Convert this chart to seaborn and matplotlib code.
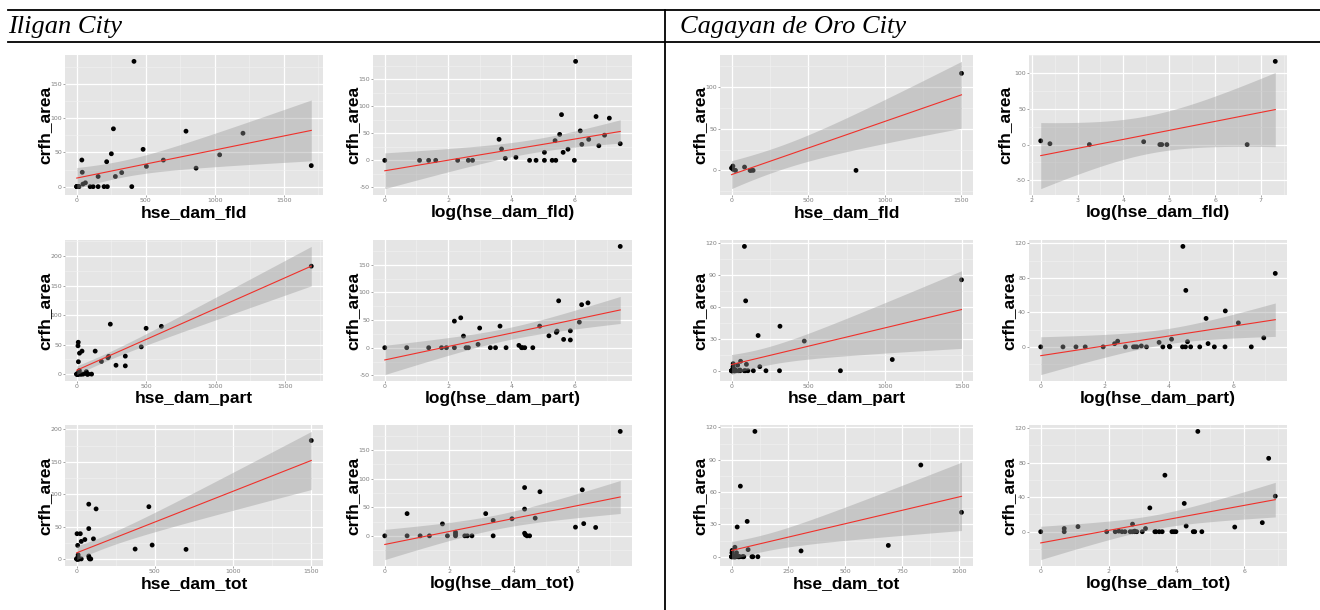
import numpy as np
import pandas as pd
import matplotlib
matplotlib.use("Agg")
import matplotlib.pyplot as plt
from matplotlib.lines import Line2D
import seaborn as sns

# ---------------- Iligan City ----------------
# houses damaged by flood vs. crfh_area
ili_fld = [0, 0, 1, 3, 4, 5, 10, 14, 16, 37, 40, 45, 63, 97, 119,
           155, 155, 198, 217, 222, 251, 266, 280, 326, 399, 415, 481, 505, 628,
           792, 865, 1036, 1205, 1700]
ili_fld_area = [0, 0, 0, 0, 0, 0, 0, 0, 0, 38.9, 21, 3.7, 5.6, 0, 0,
                0, 14.8, 0, 36.4, 0, 48, 84.5, 14.8, 20.5, 0, 183, 54.5, 29.6, 38.8,
                81, 27, 46.5, 78, 30.7]

# partially damaged houses vs. crfh_area
ili_part = [0, 0, 1, 2, 4, 6, 7, 9, 9, 11, 12, 13, 14, 19, 20, 28, 33, 38, 46, 69,
            75, 77, 83, 107, 133, 178, 225, 230, 242, 283, 350, 350, 465, 500, 610,
            1690]
ili_part_area = [0, 0, 0, 0, 0, 0, 0, 48, 0, 54, 21, 0, 0, 6, 35.5, 0, 0, 39, 0, 4.2,
                 0, 0, 0, 0, 39, 21.5, 27.7, 30, 84.7, 15, 30.5, 14, 46.2, 77.7, 81,
                 183]

# totally damaged houses vs. crfh_area
ili_tot = [0, 0, 1, 2, 2, 3, 4, 6, 7, 9, 9, 9, 12, 13, 15, 23, 29, 29, 52, 77, 77,
           77, 79, 83, 90, 107, 124, 374, 462, 483, 700, 1502]
ili_tot_area = [0, 0, 0, 38.9, 0, 0, 0, 20.9, 0, 6.2, 3, 0, 0, 0, 0, 38.9, 27, 0,
                29.9, 84.5, 46.8, 4.5, 1.7, 0, 0, 31, 77.2, 15.2, 80.6, 21.4, 14.7,
                182.8]

# ---------------- Cagayan de Oro City ----------------
cdo_fld = [0, 9, 11, 26, 85, 121, 126, 141, 812, 1500]
cdo_fld_area = [2.8, 5.2, 1.2, 0, 4, 0, 0, 0, 0, 116.4]

cdo_part = [0, 0, 1, 2, 3, 4, 7, 10, 11, 14, 18, 19, 20, 23, 27, 40, 45, 55, 56, 59,
            84, 83, 92, 91, 97, 107, 142, 173, 184, 224, 315, 312, 473, 708, 1045,
            1495]
cdo_part_area = [0, 0, 0, 0, 0, 0, 0, 3.7, 6.6, 0, 0, 0, 0, 1.1, 0, 5.2, 0, 0.7, 0,
                 8.9, 116.5, 0, 65.5, 0, 6, 0, 0, 33, 3.8, 0, 41.7, 0, 27.8, 0, 10.5,
                 85.2]

cdo_tot = [0, 0, 1, 2, 2, 3, 7, 9, 10, 11, 12, 14, 15, 16, 15, 16, 17, 20, 22, 25,
           29, 30, 33, 36, 39, 48, 51, 54, 69, 73, 90, 94, 103, 116, 306, 690, 833,
           1012]
cdo_tot_area = [0, 0, 0, 3.7, 0, 5.9, 0, 0, 0.7, 0, 0, 0, 0, 0, 8.8, 0.7, 0, 0, 3.7,
                27.6, 0, 0, 0, 0, 65.5, 0, 0, 0, 32.8, 6.6, 0, 0, 116.3, 0, 5.4,
                10.5, 85.1, 41.2]

city_titles = ["Iligan City", "Cagayan de Oro City"]
y_label = "crfh_area"

# (row, col, x, y, x variable name, log-transform?, x breaks, y breaks)
panels = [
    (0, 0, ili_fld, ili_fld_area, "hse_dam_fld", False, [0, 500, 1000, 1500], [0, 50, 100, 150]),
    (0, 1, ili_fld, ili_fld_area, "hse_dam_fld", True, [0, 2, 4, 6], [-50, 0, 50, 100, 150]),
    (0, 2, cdo_fld, cdo_fld_area, "hse_dam_fld", False, [0, 500, 1000, 1500], [0, 50, 100]),
    (0, 3, cdo_fld, cdo_fld_area, "hse_dam_fld", True, [2, 3, 4, 5, 6, 7], [-50, 0, 50, 100]),
    (1, 0, ili_part, ili_part_area, "hse_dam_part", False, [0, 500, 1000, 1500], [0, 50, 100, 150, 200]),
    (1, 1, ili_part, ili_part_area, "hse_dam_part", True, [0, 2, 4, 6], [-50, 0, 50, 100, 150]),
    (1, 2, cdo_part, cdo_part_area, "hse_dam_part", False, [0, 500, 1000, 1500], [0, 30, 60, 90, 120]),
    (1, 3, cdo_part, cdo_part_area, "hse_dam_part", True, [0, 2, 4, 6], [0, 40, 80, 120]),
    (2, 0, ili_tot, ili_tot_area, "hse_dam_tot", False, [0, 500, 1000, 1500], [0, 50, 100, 150, 200]),
    (2, 1, ili_tot, ili_tot_area, "hse_dam_tot", True, [0, 2, 4, 6], [0, 50, 100, 150]),
    (2, 2, cdo_tot, cdo_tot_area, "hse_dam_tot", False, [0, 250, 500, 750, 1000], [0, 30, 60, 90, 120]),
    (2, 3, cdo_tot, cdo_tot_area, "hse_dam_tot", True, [0, 2, 4, 6], [0, 40, 80, 120]),
]


def t_975(df):
    """Two-sided 95% Student-t quantile (Cornish-Fisher expansion)."""
    z = 1.959964
    g1 = (z ** 3 + z) / 4
    g2 = (5 * z ** 5 + 16 * z ** 3 + 3 * z) / 96
    g3 = (3 * z ** 7 + 19 * z ** 5 + 17 * z ** 3 - 15 * z) / 384
    return z + g1 / df + g2 / df ** 2 + g3 / df ** 3


def lm_band(x, y, npts=80):
    x = np.asarray(x, float)
    y = np.asarray(y, float)
    n = len(x)
    b1, b0 = np.polyfit(x, y, 1)
    resid = y - (b0 + b1 * x)
    s = np.sqrt(np.sum(resid ** 2) / (n - 2))
    xbar = x.mean()
    sxx = np.sum((x - xbar) ** 2)
    grid = np.linspace(x.min(), x.max(), npts)
    fit = b0 + b1 * grid
    se = s * np.sqrt(1.0 / n + (grid - xbar) ** 2 / sxx)
    t = t_975(n - 2)
    return grid, fit, fit - t * se, fit + t * se


def minor_breaks(major, lo, hi):
    step = major[1] - major[0]
    ext = [major[0] - step] + list(major) + [major[-1] + step]
    mids = [(a + b) / 2 for a, b in zip(ext[:-1], ext[1:])]
    return [m for m in mids if lo <= m <= hi]


W, H = 1320, 610
fig = plt.figure(figsize=(W / 100, H / 100), dpi=100)

col_left = [65, 373, 720, 1029]
col_w = [258, 259, 253, 258]
row_top = [55, 240, 425]
row_h = [140, 141, 141]

lab_font = dict(family="Liberation Sans", weight="bold", size=12.5)

for r, c, xs, ys, xname, use_log, xbr, ybr in panels:
    left, width = col_left[c], col_w[c]
    top, height = row_top[r], row_h[r]
    ax = fig.add_axes([left / W, 1 - (top + height) / H, width / W, height / H])
    ax.set_facecolor("#E5E5E5")
    for sp in ax.spines.values():
        sp.set_visible(False)

    df = pd.DataFrame({"x": np.asarray(xs, float), "y": np.asarray(ys, float)})
    if use_log:
        # log(0) is -Inf, so those rows drop out of the log-scale fit
        df = df[df["x"] > 0].copy()
        df["x"] = np.log(df["x"])
        xlab = f"log({xname})"
    else:
        xlab = xname
    grid, fit, lo, hi = lm_band(df["x"], df["y"])

    sns.scatterplot(data=df, x="x", y="y", ax=ax, color="black", s=12,
                    edgecolor="none", linewidth=0, zorder=3)
    ax.fill_between(grid, lo, hi, color="#999999", alpha=0.4, linewidth=0, zorder=4)
    sns.lineplot(x=grid, y=fit, ax=ax, color="#F0302A", linewidth=0.8,
                 estimator=None, sort=False, zorder=5)

    xmin, xmax = df["x"].min(), df["x"].max()
    ymin = min(df["y"].min(), lo.min())
    ymax = max(df["y"].max(), hi.max())
    xpad = 0.05 * (xmax - xmin)
    ypad = 0.05 * (ymax - ymin)
    ax.set_xlim(xmin - xpad, xmax + xpad)
    ax.set_ylim(ymin - ypad, ymax + ypad)

    ax.set_xticks(xbr)
    ax.set_yticks(ybr)
    ax.set_xticklabels([str(v) for v in xbr])
    ax.set_yticklabels([str(v) for v in ybr])
    ax.set_xticks(minor_breaks(xbr, *ax.get_xlim()), minor=True)
    ax.set_yticks(minor_breaks(ybr, *ax.get_ylim()), minor=True)
    ax.grid(which="major", color="white", linewidth=0.9, zorder=0)
    ax.grid(which="minor", color="#F2F2F2", linewidth=0.4, zorder=0)
    ax.set_axisbelow(True)
    ax.tick_params(which="major", length=1.6, width=0.5, color="#7F7F7F",
                   labelcolor="#7F7F7F", labelsize=4.5, pad=0.6)
    ax.tick_params(which="minor", length=0)

    ax.set_xlabel(xlab, fontdict=lab_font)
    ax.set_ylabel(y_label, fontdict=lab_font)
    ax.xaxis.set_label_coords(0.5, -10 / height)
    ylab_gap = 17 if (r, c) == (0, 3) else 13
    ax.yaxis.set_label_coords(-ylab_gap / width, 0.5)


def hline(y, x0, x1):
    fig.add_artist(Line2D([x0 / W, x1 / W], [1 - y / H, 1 - y / H],
                          transform=fig.transFigure, color="black", linewidth=1.3))


def vline(x, y0, y1):
    fig.add_artist(Line2D([x / W, x / W], [1 - y0 / H, 1 - y1 / H],
                          transform=fig.transFigure, color="black", linewidth=1.3))


hline(10, 8, 1320)
hline(42, 8, 1320)
vline(665, 10, 610)

title_font = dict(family="Liberation Serif", style="italic", size=19)
fig.text(8 / W, 1 - 27 / H, city_titles[0], ha="left", va="center", fontdict=title_font)
fig.text(680 / W, 1 - 27 / H, city_titles[1], ha="left", va="center", fontdict=title_font)

fig.savefig("out.png", dpi=100, facecolor="white")
